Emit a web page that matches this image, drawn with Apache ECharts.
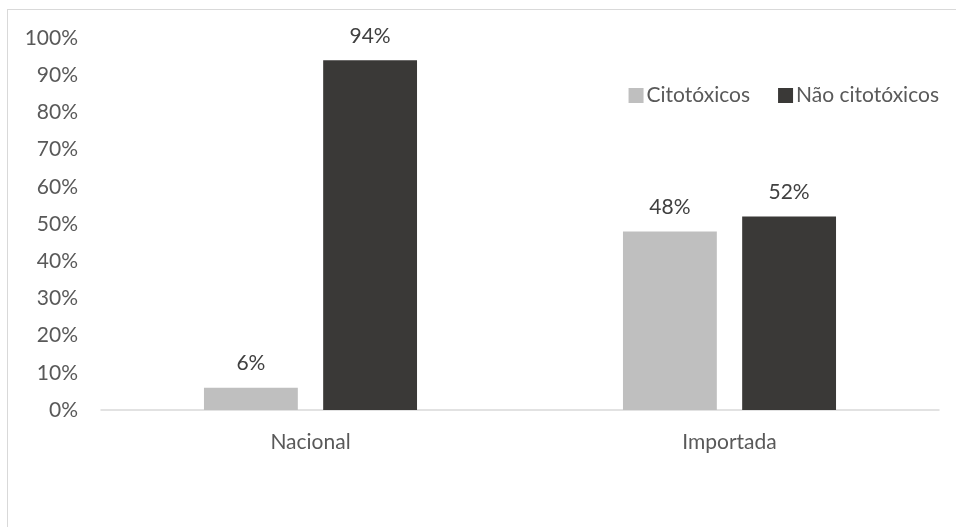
<!DOCTYPE html>
<html><head><meta charset="utf-8">
<script src="https://cdn.jsdelivr.net/npm/echarts@6/dist/echarts.min.js"></script>
<style>html,body{margin:0;padding:0;background:#fff}#c{width:956px;height:527px}
#b{position:absolute;left:7px;top:9px;width:960px;height:530px;border-left:1px solid #d9d9d9;border-top:1px solid #d9d9d9}</style>
</head><body><div id="b"></div><div id="c" style="position:absolute;left:0;top:0"></div>
<script>
const categories = ['Nacional', 'Importada'];
const citotoxicos = [6, 48];
const naoCitotoxicos = [94, 52];
const seriesNames = ['Citotóxicos', 'Não citotóxicos'];
const font = 'Lato, "Open Sans", sans-serif';
const chart = echarts.init(document.getElementById('c'));
const lbl = {show:true, position:'top', distance:14, formatter: p => p.value + '%', color:'#404040', fontSize:21, fontFamily:font};
chart.setOption({
  animation:false,
  textStyle:{fontFamily:font},
  legend:{data:seriesNames, right:12, top:80, itemWidth:15, itemHeight:15, itemGap:28, icon:'rect',
    textStyle:{fontSize:21, color:'#595959', fontFamily:font, padding:[0,0,0,-2]}},
  grid:{left:101, right:17, top:38, bottom:117, containLabel:false},
  xAxis:{type:'category', data:categories, axisLine:{lineStyle:{color:'#d9d9d9', width:1.5}}, axisTick:{show:false},
    axisLabel:{color:'#595959', fontSize:21, margin:22, fontFamily:font}},
  yAxis:{type:'value', min:0, max:100, interval:10, splitLine:{show:false}, axisLine:{show:false}, axisTick:{show:false},
    axisLabel:{formatter:'{value}%', color:'#595959', fontSize:21, margin:23, fontFamily:font}},
  series:[
    {name:seriesNames[0], type:'bar', data:citotoxicos, barWidth:'22.4%', barGap:'27%', itemStyle:{color:'#bfbfbf'}, label:lbl},
    {name:seriesNames[1], type:'bar', data:naoCitotoxicos, barWidth:'22.4%', itemStyle:{color:'#3a3937'}, label:lbl}
  ]
});
</script></body></html>
